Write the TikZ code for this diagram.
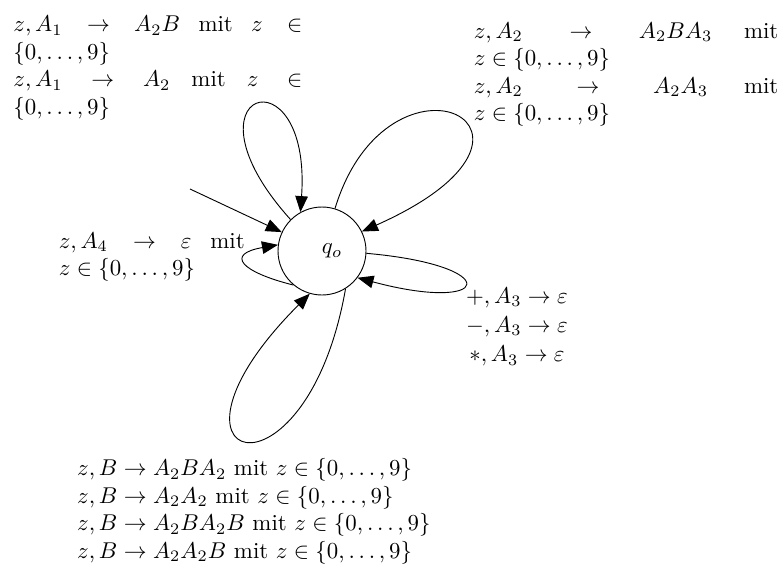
\documentclass[tikz,border=0pt]{standalone}
\usepackage{amsmath}
\usepackage{amssymb}
\usepackage{tikz}
\usetikzlibrary{arrows.meta}
\hbadness=10000

\begin{document}
\begin{tikzpicture}[x=0.01536cm,y=0.01536cm,
  state/.style={circle,draw,minimum size=1.352cm,inner sep=0pt},
  trans/.style={-{Triangle[length=7pt,width=5.5pt]}},
  rulebox/.style={anchor=base west,inner sep=0pt,align=justify},
  rulelist/.style={anchor=base west,inner sep=0pt,align=left}]
  \useasboundingbox (0,0) rectangle (781,-579);
  \node[state] (q0) at (322,-251) {\hspace*{8.8pt}$q_o$};
  \coordinate (init) at (190,-189);
  \draw[trans] (init) -- (q0);
  % loops on q0
  \draw[trans] (q0.135) .. controls +(132:175) and +(86:165) .. (q0.119);
  \draw[trans] (q0.73) .. controls +(73:185) and +(24:250) .. (q0.26);
  \draw[trans] (q0.230) .. controls +(166:54) and +(190:54) .. (q0.172);
  \draw[trans] (q0.357) .. controls +(-5:140) and +(-15:140) .. (q0.323);
  \draw[trans] (q0.302) .. controls +(-100:230) and +(225:245) .. (q0.254);
  % transition labels
  \node[rulebox,text width=4.44cm] (lblA1) at (13,-31.7) {$z,A_1\rightarrow A_2B$ mit $z\in$\linebreak$\{0,\ldots,9\}$\\ $z,A_1\rightarrow A_2$ mit $z\in$\linebreak$\{0,\ldots,9\}$};
  \node[rulebox,text width=4.68cm] (lblA2) at (473.3,-38.3) {$z,A_2\rightarrow A_2BA_3$ mit\linebreak $z\in\{0,\ldots,9\}$\\ $z,A_2\rightarrow A_2A_3$ mit\linebreak $z\in\{0,\ldots,9\}$};
  \node[rulebox,text width=2.857cm] (lblA4) at (58.3,-248.3) {$z,A_4\rightarrow\varepsilon$ mit\linebreak $z\in\{0,\ldots,9\}$};
  \node[anchor=base,align=center,inner sep=0pt] (lblA3) at (517,-361.7) {$+,A_3\rightarrow\varepsilon$\\[0.8pt] $-,A_3\rightarrow\varepsilon$\\[0.8pt] $*,A_3\rightarrow\varepsilon$};
  \node[rulelist] (lblB) at (76.7,-558.3) {$z,B\rightarrow A_2BA_2$ mit $z\in\{0,\ldots,9\}$\\ $z,B\rightarrow A_2A_2$ mit $z\in\{0,\ldots,9\}$\\ $z,B\rightarrow A_2BA_2B$ mit $z\in\{0,\ldots,9\}$\\ $z,B\rightarrow A_2A_2B$ mit $z\in\{0,\ldots,9\}$};
\end{tikzpicture}
\end{document}
